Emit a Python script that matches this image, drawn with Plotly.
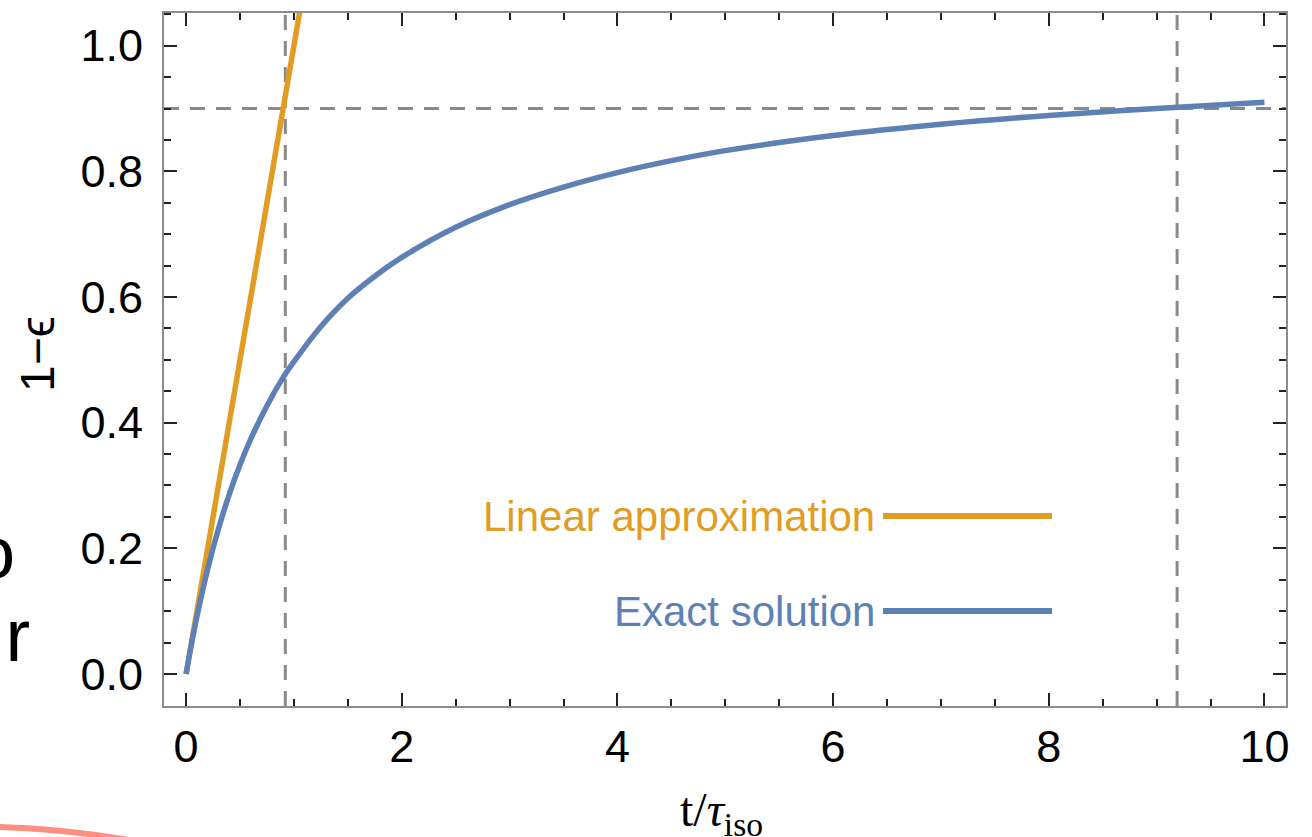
import plotly.graph_objects as go

# Exact solution of 1-epsilon versus t/tau_iso
t_exact = [0, 0.05, 0.1, 0.2, 0.3, 0.4, 0.5, 0.6, 0.75, 0.9, 1.0, 1.25, 1.5, 1.75, 2.0, 2.5,
           3.0, 3.5, 4.0, 4.5, 5.0, 6.0, 7.0, 8.0, 9.0, 10.0]
y_exact = [0, 0.048, 0.091, 0.167, 0.231, 0.286, 0.333, 0.374, 0.427, 0.472, 0.497, 0.553,
           0.598, 0.633, 0.663, 0.711, 0.747, 0.775, 0.798, 0.817, 0.833, 0.857, 0.875, 0.889,
           0.9, 0.91]

# Linear (small-time) approximation
t_linear = [0, 1.2]
y_linear = [0, 1.2]

# Reference markers
y_level = 0.9
t_marks = [0.92, 9.19]

x_ticks = [0, 2, 4, 6, 8, 10]
y_ticks = [0.0, 0.2, 0.4, 0.6, 0.8, 1.0]
y_ticktext = ["0.0", "0.2", "0.4", "0.6", "0.8", "1.0"]

ORANGE = "#E19C24"
BLUE = "#5E81B5"
GRAY_DASH = "#8a8a8a"
FRAME = "#8c8c8c"

W, H = 1312, 837
L, R, T, B = 164, 26, 13, 131
PW, PH = W - L - R, H - T - B


def px(x):
    return (x - L) / PW


def py(y):
    return (H - B - y) / PH


fig = go.Figure()

fig.add_trace(go.Scatter(
    x=t_linear, y=y_linear, mode="lines",
    line=dict(color=ORANGE, width=5.5), showlegend=False, hoverinfo="skip",
))
fig.add_trace(go.Scatter(
    x=t_exact, y=y_exact, mode="lines",
    line=dict(color=BLUE, width=5.5, shape="spline", smoothing=1.0),
    showlegend=False, hoverinfo="skip",
))

shapes = [
    dict(type="line", xref="paper", yref="y", x0=0, x1=1, y0=y_level, y1=y_level,
         line=dict(color=GRAY_DASH, width=3, dash="15px,11px"), layer="below"),
]
for tm in t_marks:
    shapes.append(dict(type="line", xref="x", yref="paper", x0=tm, x1=tm, y0=0, y1=1,
                       line=dict(color=GRAY_DASH, width=3, dash="15px,11px"), layer="below"))

# legend line samples
shapes.append(dict(type="line", xref="paper", yref="paper", x0=px(883), x1=px(1052),
                   y0=py(516), y1=py(516), line=dict(color=ORANGE, width=6)))
shapes.append(dict(type="line", xref="paper", yref="paper", x0=px(883), x1=px(1052),
                   y0=py(611), y1=py(611), line=dict(color=BLUE, width=6)))

# stray arc at the lower-left corner
shapes.append(dict(
    type="path", xref="paper", yref="paper",
    path=f"M {px(-40)},{py(826.7)} Q {px(50)},{py(825.5)} {px(140)},{py(842)}",
    line=dict(color="#FF8F80", width=6),
))

annotations = [
    dict(text="Linear approximation", xref="paper", yref="paper", x=px(877), y=py(516),
         xanchor="right", yanchor="middle", showarrow=False,
         font=dict(family="Liberation Sans, Arial", size=42, color=ORANGE)),
    dict(text="Exact solution", xref="paper", yref="paper", x=px(877), y=py(611),
         xanchor="right", yanchor="middle", showarrow=False,
         font=dict(family="Liberation Sans, Arial", size=42, color=BLUE)),
    dict(text="1\u2212\u03f5", xref="paper", yref="paper", x=px(37), y=py(354),
         xanchor="center", yanchor="middle", textangle=-90, showarrow=False,
         font=dict(family="Liberation Sans, Arial", size=48, color="black")),
    dict(text="t/<i>\u03c4</i><sub>iso</sub>", xref="paper", yref="paper", x=px(721), y=py(813),
         xanchor="center", yanchor="middle", showarrow=False,
         font=dict(family="Liberation Serif, Times New Roman", size=48, color="black")),
    # fragments of neighbouring text
    dict(text="o", xref="paper", yref="paper", x=px(17), y=py(552),
         xanchor="right", yanchor="middle", showarrow=False,
         font=dict(family="Liberation Sans, Arial", size=74, color="black")),
    dict(text=".r", xref="paper", yref="paper", x=px(32), y=py(635),
         xanchor="right", yanchor="middle", showarrow=False,
         font=dict(family="Liberation Sans, Arial", size=74, color="black")),
]

axis_common = dict(
    showline=True, linecolor=FRAME, linewidth=2, mirror="allticks",
    ticks="inside", tickcolor="#222222", tickwidth=2, ticklen=13,
    showgrid=False, zeroline=False,
    tickfont=dict(family="Liberation Sans, Arial", size=45, color="black"),
)

fig.update_layout(
    width=W, height=H, autosize=False,
    margin=dict(l=L, r=R, t=T, b=B, pad=0),
    paper_bgcolor="white", plot_bgcolor="white",
    shapes=shapes, annotations=annotations, showlegend=False,
    xaxis=dict(range=[-0.205, 10.2], tickvals=x_ticks, ticktext=[str(v) for v in x_ticks],
               minor=dict(dtick=0.5, tick0=0, ticks="inside", ticklen=7, tickcolor="#222222",
                          tickwidth=2, showgrid=False),
               ticklabelstandoff=0, **axis_common),
    yaxis=dict(range=[-0.051, 1.052], tickvals=y_ticks, ticktext=y_ticktext,
               minor=dict(dtick=0.05, tick0=0, ticks="inside", ticklen=7, tickcolor="#222222",
                          tickwidth=2, showgrid=False),
               ticklabelstandoff=10, **axis_common),
)

fig.write_html("out.html")
